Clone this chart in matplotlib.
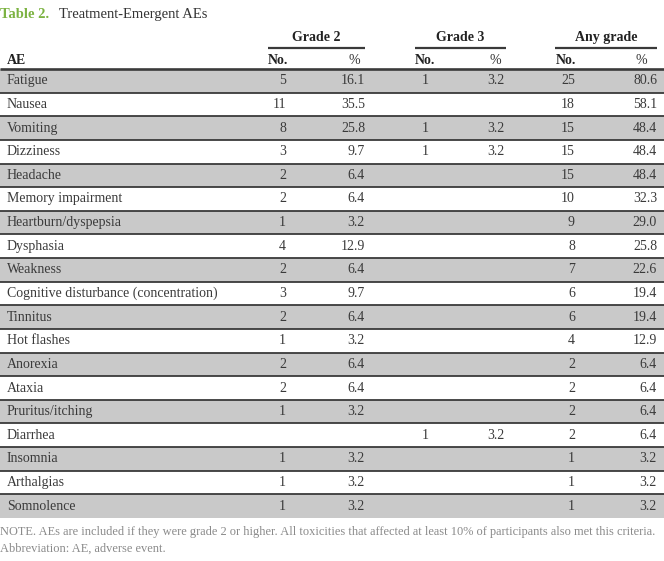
import matplotlib
matplotlib.use("Agg")
import matplotlib.pyplot as plt

aes = ["Fatigue", "Nausea", "Vomiting", "Dizziness", "Headache", "Memory impairment",
       "Heartburn/dyspepsia", "Dysphasia", "Weakness", "Cognitive disturbance (concentration)",
       "Tinnitus", "Hot flashes", "Anorexia", "Ataxia", "Pruritus/itching", "Diarrhea",
       "Insomnia", "Arthalgias", "Somnolence"]
g2_no = ["5", "11", "8", "3", "2", "2", "1", "4", "2", "3", "2", "1", "2", "2", "1", "", "1", "1", "1"]
g2_pct = ["16.1", "35.5", "25.8", "9.7", "6.4", "6.4", "3.2", "12.9", "6.4", "9.7", "6.4", "3.2",
          "6.4", "6.4", "3.2", "", "3.2", "3.2", "3.2"]
g3_no = ["1", "", "1", "1", "", "", "", "", "", "", "", "", "", "", "", "1", "", "", ""]
g3_pct = ["3.2", "", "3.2", "3.2", "", "", "", "", "", "", "", "", "", "", "", "3.2", "", "", ""]
any_no = ["25", "18", "15", "15", "15", "10", "9", "8", "7", "6", "6", "4", "2", "2", "2", "2", "1", "1", "1"]
any_pct = ["80.6", "58.1", "48.4", "48.4", "48.4", "32.3", "29.0", "25.8", "22.6", "19.4", "19.4",
           "12.9", "6.4", "6.4", "6.4", "6.4", "3.2", "3.2", "3.2"]
groups = ["Grade 2", "Grade 3", "Any grade"]

W, H = 664, 561
fig = plt.figure(figsize=(W / 100, H / 100), dpi=100)
ax = fig.add_axes([0, 0, 1, 1])
ax.set_xlim(0, W)
ax.set_ylim(H, 0)
ax.axis("off")

FONT = "Liberation Serif"
TXT = "#3a3a3a"
SHADE = "#c9c9c9"
LINE = "#3a3a3a"
fs = 10.0

# Title
ax.text(0, 14, "Table 2.", fontsize=10.5, fontweight="bold", color="#7cb342",
        family=FONT, va="center", ha="left")
ax.text(59, 14, "Treatment-Emergent AEs", fontsize=10.5, color="#333333",
        family=FONT, va="center", ha="left")

# Group headers
spans = [(268, 365), (415, 506), (555, 657)]
for g, (x0, x1) in zip(groups, spans):
    ax.text((x0 + x1) / 2, 37, g, fontsize=fs, fontweight="bold", color="#222222",
            family=FONT, ha="center", va="center")
    ax.plot([x0, x1], [47.5, 47.5], color=LINE, lw=1.6, solid_capstyle="butt")

# Column header row
ax.text(7, 60, "AE", fontsize=fs, fontweight="bold", color="#222222", family=FONT,
        ha="left", va="center")
no_left = [268, 415, 556]
pct_center = [354, 495, 641]
for xl, xc in zip(no_left, pct_center):
    ax.text(xl, 60, "No.", fontsize=fs, fontweight="bold", color="#222222", family=FONT,
            ha="left", va="center")
    ax.text(xc, 60, "%", fontsize=fs, color="#333333", family=FONT,
            ha="center", va="center")

top = 69
bottom = 518
n = len(aes)
rh = (bottom - top) / n

# Row shading
for i in range(n):
    y0 = top + i * rh
    if i % 2 == 0:
        ax.add_patch(plt.Rectangle((0, y0), W, rh, color=SHADE, lw=0, zorder=0))

# Lines
ax.plot([0, W], [top, top], color=LINE, lw=1.9, solid_capstyle="butt")
for i in range(1, n):
    y = top + i * rh
    ax.plot([0, W], [y, y], color=LINE, lw=1.3, solid_capstyle="butt")

cols = [(g2_no, 286), (g2_pct, 365), (g3_no, 429), (g3_pct, 504), (any_no, 575), (any_pct, 657)]
for i, name in enumerate(aes):
    yc = top + (i + 0.5) * rh
    ax.text(7, yc, name, fontsize=fs, color=TXT, family=FONT, ha="left", va="center")
    for vals, xr in cols:
        if vals[i]:
            ax.text(xr, yc, vals[i], fontsize=fs, color=TXT, family=FONT,
                    ha="right", va="center")

# Footnotes
ax.text(0, 532, "NOTE. AEs are included if they were grade 2 or higher. All toxicities that affected at least 10% of participants also met this criteria.",
        fontsize=8.9, color="#8a8a8a", family=FONT, ha="left", va="center")
ax.text(0, 549, "Abbreviation: AE, adverse event.",
        fontsize=8.9, color="#8a8a8a", family=FONT, ha="left", va="center")

fig.savefig("out.png", dpi=100)
